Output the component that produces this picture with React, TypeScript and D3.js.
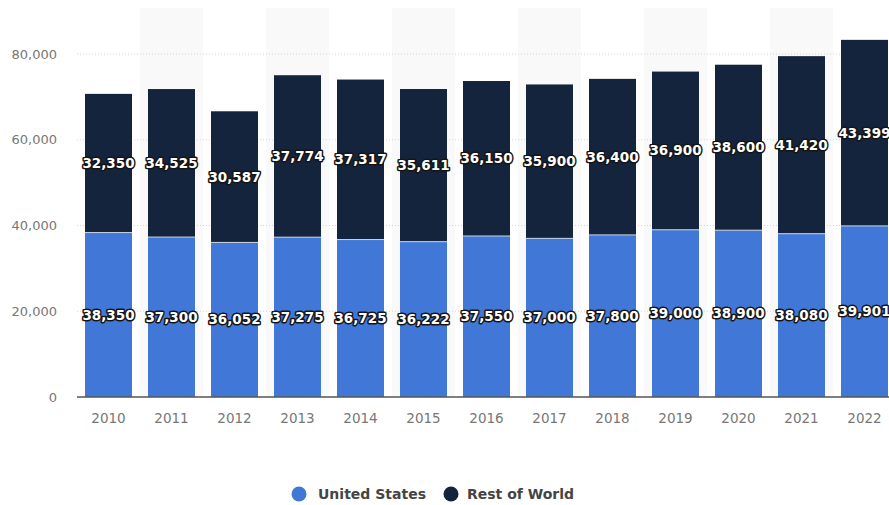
import React from "react";
import * as d3 from "d3";

const years = ["2010","2011","2012","2013","2014","2015","2016","2017","2018","2019","2020","2021","2022"];
const unitedStates = [38350,37300,36052,37275,36725,36222,37550,37000,37800,39000,38900,38080,39901];
const restOfWorld = [32350,34525,30587,37774,37317,35611,36150,35900,36400,36900,38600,41420,43399];
const yTicks = [0,20000,40000,60000,80000];
const seriesNames = ["United States","Rest of World"];
const seriesColors = ["#4178d8","#14243d"];

const W = 889, H = 505;
const left = 77, right = 896, top = 8, bottom = 397;

export default function App() {
  const x = d3.scaleBand<string>().domain(years).range([left, right]).paddingInner(0.254).paddingOuter(0.127);
  const step = x.step();
  const y = d3.scaleLinear().domain([0, 80000]).range([bottom, 54]);
  const fmt = d3.format(",");
  const font = "'DejaVu Sans', 'Open Sans', sans-serif";
  return (
    <div style={{ position: "absolute", left: 0, top: 0, width: W, height: H, background: "#fff" }}>
      <svg width={W} height={H} style={{ display: "block" }} fontFamily={font}>
        {years.map((yr, i) =>
          i % 2 === 1 ? (
            <rect key={"band" + yr} x={x(yr)! - (step - x.bandwidth()) / 2} y={top} width={step} height={bottom - top} fill="#f9f9f9" />
          ) : null
        )}
        {yTicks.filter(t => t > 0).map(t => (
          <line key={"g" + t} x1={left} x2={W} y1={y(t)} y2={y(t)} stroke="#d3d3d3" strokeWidth={1} strokeDasharray="1,2" />
        ))}
        {yTicks.map(t => (
          <text key={"yt" + t} x={57} y={y(t)} dy="0.35em" textAnchor="end" fontSize={13} fill="#777">{fmt(t)}</text>
        ))}
        {years.map((yr, i) => {
          const us = unitedStates[i];
          const rw = restOfWorld[i];
          const bx = x(yr)!;
          const bw = x.bandwidth();
          return (
            <g key={"bar" + yr}>
              <rect x={bx} y={y(us)} width={bw} height={y(0) - y(us)} fill={seriesColors[0]} />
              <rect x={bx} y={y(us + rw)} width={bw} height={y(us) - y(us + rw)} fill={seriesColors[1]} />
              <line x1={bx} x2={bx + bw} y1={y(us)} y2={y(us)} stroke="#c9d3e6" strokeWidth={1} />
            </g>
          );
        })}
        <line x1={left} x2={W} y1={bottom} y2={bottom} stroke="#555" strokeWidth={1.5} />
        {years.map(yr => (
          <text key={"xt" + yr} x={x(yr)! + x.bandwidth() / 2} y={418} dy="0.35em" textAnchor="middle" fontSize={13.5} fill="#777">{yr}</text>
        ))}
        {years.map((yr, i) => {
          const us = unitedStates[i];
          const rw = restOfWorld[i];
          const cx = x(yr)! + x.bandwidth() / 2;
          return (
            <g key={"lab" + yr} fontSize={13.5} fontWeight="bold" fill="#fff" stroke="#151515" strokeWidth={3} strokeLinejoin="round" textAnchor="middle" style={{ paintOrder: "stroke" }}>
              <text x={cx} y={y(us / 2)} dy="0.35em">{fmt(us)}</text>
              <text x={cx} y={y(us + rw / 2)} dy="0.35em">{fmt(rw)}</text>
            </g>
          );
        })}
        <g fontSize={14} fontWeight="bold" fill="#444">
          <circle cx={299} cy={494} r={7.5} fill={seriesColors[0]} />
          <text x={318} y={494} dy="0.35em">{seriesNames[0]}</text>
          <circle cx={451} cy={494} r={7.5} fill={seriesColors[1]} />
          <text x={467} y={494} dy="0.35em">{seriesNames[1]}</text>
        </g>
      </svg>
    </div>
  );
}
